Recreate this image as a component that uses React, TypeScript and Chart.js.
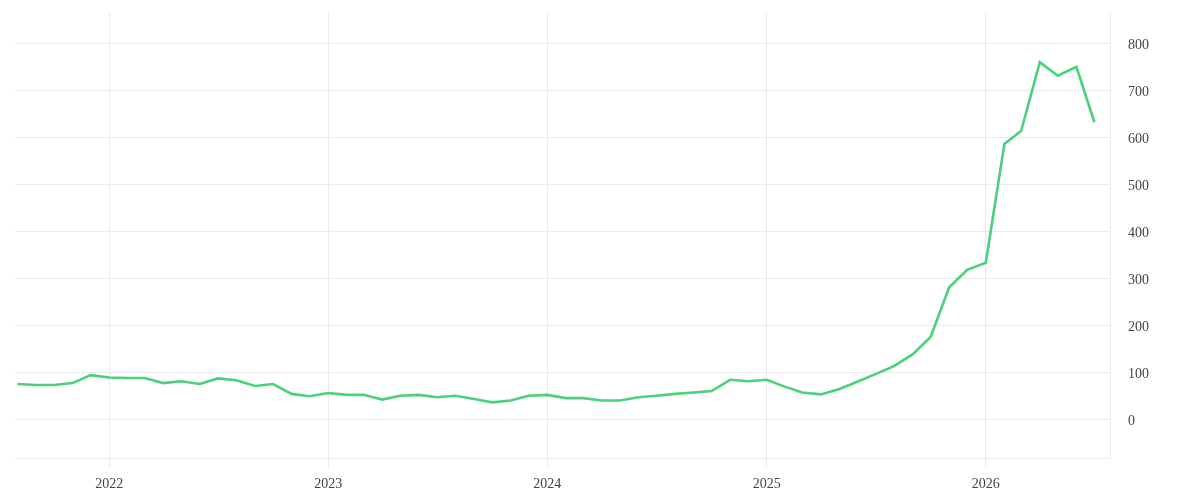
import { useEffect, useRef } from 'react';
import { Chart, registerables } from 'chart.js';

Chart.register(...registerables);

const months = [
  '2021-08', '2021-09', '2021-10', '2021-11', '2021-12',
  '2022-01', '2022-02', '2022-03', '2022-04', '2022-05', '2022-06', '2022-07', '2022-08', '2022-09', '2022-10', '2022-11', '2022-12',
  '2023-01', '2023-02', '2023-03', '2023-04', '2023-05', '2023-06', '2023-07', '2023-08', '2023-09', '2023-10', '2023-11', '2023-12',
  '2024-01', '2024-02', '2024-03', '2024-04', '2024-05', '2024-06', '2024-07', '2024-08', '2024-09', '2024-10', '2024-11', '2024-12',
  '2025-01', '2025-02', '2025-03', '2025-04', '2025-05', '2025-06', '2025-07', '2025-08', '2025-09', '2025-10', '2025-11', '2025-12',
  '2026-01', '2026-02', '2026-03', '2026-04', '2026-05', '2026-06', '2026-07',
];

const values = [
  75, 73, 73, 77, 94,
  89, 88, 88, 77, 81, 75, 87, 83, 71, 75, 54, 49,
  56, 52, 52, 42, 50, 52, 47, 50, 43, 36, 40, 50,
  52, 45, 45, 40, 40, 47, 50, 54, 57, 60, 84, 81,
  84, 69, 57, 53, 64, 80, 96, 113, 138, 175, 281, 318,
  333, 586, 614, 760, 731, 750, 632,
];

const yearTicks = [2022, 2023, 2024, 2025, 2026];
const yTicks = [0, 100, 200, 300, 400, 500, 600, 700, 800];
const xRangeDates = ['2021-07-28', '2026-07-27'];
const yRange = [-83, 866.6];

const dayIndex = (s: string) => {
  const [y, m, d] = s.split('-').map(Number);
  return (Date.UTC(y, m - 1, d || 1) - Date.UTC(2022, 0, 1)) / 86400000;
};

const GRID = '#ebebeb';
const TEXT = '#444444';
const FONT = { family: "'Liberation Serif', serif", size: 14 };

export default function App() {
  const ref = useRef<HTMLCanvasElement | null>(null);

  useEffect(() => {
    if (!ref.current) return;
    const data = months.map((m, i) => ({ x: dayIndex(m + '-01'), y: values[i] }));
    const xTickVals = yearTicks.map((y) => dayIndex(`${y}-01-01`));
    const chart = new Chart(ref.current, {
      type: 'line',
      data: {
        datasets: [
          {
            data,
            borderColor: '#4ad17a',
            borderWidth: 2.6,
            pointRadius: 0,
            pointHoverRadius: 0,
            tension: 0,
            fill: false,
          },
        ],
      },
      options: {
        animation: false,
        responsive: true,
        maintainAspectRatio: false,
        layout: { padding: { left: 7, top: 4, right: 0, bottom: 0 } },
        plugins: { legend: { display: false }, tooltip: { enabled: false } },
        scales: {
          x: {
            type: 'linear',
            min: dayIndex(xRangeDates[0]),
            max: dayIndex(xRangeDates[1]),
            afterBuildTicks: (scale: any) => {
              scale.ticks = xTickVals.map((v) => ({ value: v }));
            },
            afterFit: (scale: any) => {
              scale.height = 33.7;
              scale.paddingLeft = 0;
              scale.paddingRight = 0;
            },
            grid: { color: GRID, lineWidth: 1, drawTicks: true, tickLength: 10, tickColor: GRID },
            border: { display: true, color: GRID, width: 1 },
            ticks: {
              autoSkip: false,
              maxRotation: 0,
              padding: 8,
              color: TEXT,
              font: FONT,
              callback: (_v: any, i: number) => String(yearTicks[i]),
            },
          },
          y: {
            type: 'linear',
            position: 'right',
            min: yRange[0],
            max: yRange[1],
            afterBuildTicks: (scale: any) => {
              scale.ticks = yTicks.map((v) => ({ value: v }));
            },
            afterFit: (scale: any) => {
              scale.width = 82;
              scale.paddingTop = 0;
              scale.paddingBottom = 0;
            },
            grid: { color: GRID, lineWidth: 1, drawTicks: false },
            border: { display: true, color: GRID, width: 1 },
            ticks: {
              padding: 18,
              labelOffset: 2.5,
              color: TEXT,
              font: FONT,
              callback: (v: any) => String(v),
            },
          },
        },
      },
    } as any);
    return () => chart.destroy();
  }, []);

  return (
    <div style={{ position: 'relative', width: 1184, height: 484 }}>
      <canvas ref={ref} />
    </div>
  );
}
